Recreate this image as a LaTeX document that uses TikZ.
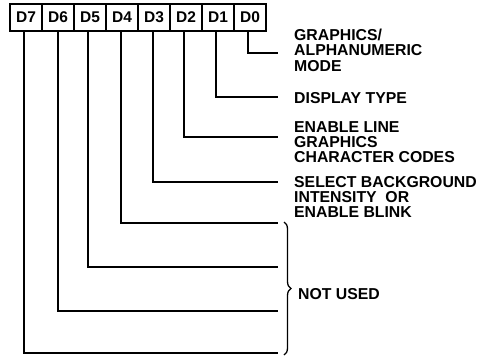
\documentclass[tikz,border=0pt]{standalone}
\usepackage{fontspec}
\setmainfont{Liberation Sans}
\usetikzlibrary{decorations.pathreplacing}
\begin{document}
\begin{tikzpicture}[x=1pt,y=-1pt,
  bitbox/.style={draw,line width=1.8pt,minimum width=32pt,minimum height=27pt,inner sep=0pt,
    font=\fontsize{15.5}{15}\selectfont\bfseries},
  wire/.style={line width=1.5pt},
  lbl/.style={anchor=north west,inner sep=0pt,align=left,
    font=\fontsize{15.8}{15.3}\selectfont\bfseries}]
\useasboundingbox (0,0) rectangle (487,356);
% register boxes
\foreach \n [count=\i from 0] in {7,6,5,4,3,2,1,0}
  \node[bitbox] (D\n) at (26+32*\i,17.5) {D\n};
% end points of connectors
\coordinate (e0) at (278,53);
\coordinate (e1) at (278,97);
\coordinate (e2) at (278,137);
\coordinate (e3) at (278,182);
\coordinate (e4) at (278,223);
\coordinate (e5) at (278,267);
\coordinate (e6) at (278,311);
\coordinate (e7) at (278,353);
\foreach \n/\dx in {0/-2,1/-2,2/-2,3/-1,4/-1,5/-2,6/0,7/-2}
  \draw[wire] ([xshift=\dx pt]D\n.south) |- (e\n);
% labels
\node[lbl] (l0) at (294,29) {GRAPHICS/\\ALPHANUMERIC\\MODE};
\node[lbl] (l1) at (294,92) {DISPLAY TYPE};
\node[lbl] (l2) at (294,121) {ENABLE LINE\\GRAPHICS\\CHARACTER CODES};
\node[lbl] (l3) at (294,176) {SELECT BACKGROUND\\INTENSITY\ \ OR\\ENABLE BLINK};
% brace
\coordinate (bt) at (284,222);
\coordinate (bb) at (284,355);
\draw[line width=1.3pt,decorate,decoration={brace,amplitude=7pt}] (bt) -- (bb);
\node[lbl] (l4) at (298,288) {NOT USED};
\end{tikzpicture}
\end{document}
